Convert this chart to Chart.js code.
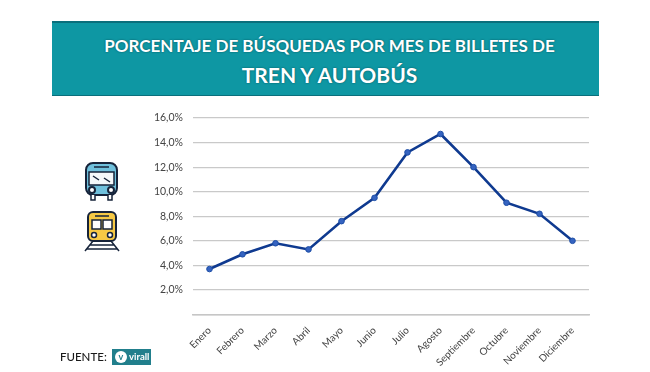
<!DOCTYPE html>
<html lang="es">
<head>
<meta charset="utf-8">
<title>Porcentaje de búsquedas</title>
<script src="https://cdn.jsdelivr.net/npm/chart.js@4/dist/chart.umd.min.js"></script>
<style>
    html, body { margin: 0; padding: 0; background: #fff; }
    #page { position: relative; width: 650px; height: 372px; overflow: hidden; font-family: Lato, sans-serif; }
    #chart { position: absolute; left: 0; top: 0; }
    #banner {
        position: absolute; left: 52px; top: 21px; width: 547px; height: 75px; box-sizing: border-box;
        background: #0e97a3; border-top: 2px solid #0a6f7c; border-bottom: 1px solid #0a6f7c;
        color: #fff; text-align: center; font-weight: 700; text-shadow: 0 0 2px #06505a;
    }
    #banner .line1 { position: absolute; left: 8px; right: 0; top: 13px; font-size: 17px; line-height: 20px; }
    #banner .line2 { position: absolute; left: 8px; right: 0; top: 40px; font-size: 21px; line-height: 24px; }
    #source { position: absolute; left: 60px; top: 350px; font-size: 11.5px; line-height: 14px; color: #1a1a1a; font-weight: 500; }
    #logo {
        position: absolute; left: 112px; top: 349px; width: 39px; height: 16px; background: #217f8c;
        color: #fff; font-size: 9.5px; font-weight: 700; line-height: 16px;
    }
    #logo i {
        position: absolute; left: 3px; top: 2px; width: 12px; height: 12px; border-radius: 50%; background: #fff;
        color: #217f8c; font-size: 9px; font-style: normal; line-height: 11px; text-align: center;
    }
    #logo span { position: absolute; left: 17px; top: 0; }
    .icon { position: absolute; }
</style>
</head>
<body>
<div id="page">
    <canvas id="chart" width="650" height="372"></canvas>
    <div id="banner">
        <div class="line1">PORCENTAJE DE BÚSQUEDAS POR MES DE BILLETES DE</div>
        <div class="line2">TREN Y AUTOBÚS</div>
    </div>

    <!-- bus icon -->
    <svg class="icon" style="left:84px;top:161px" width="36" height="42" viewBox="0 0 36 42">
        <rect x="2" y="2" width="31" height="32" rx="7" fill="#6fc0dc" stroke="#16233a" stroke-width="2"/>
        <rect x="5" y="11" width="25" height="13" fill="#f4f8fa" stroke="#16233a" stroke-width="1.5"/>
        <path d="M9 15l6 4M20 17l6 4M10 6h15" stroke="#16233a" stroke-width="1.5" fill="none"/>
        <circle cx="8" cy="29" r="3" fill="#fff" stroke="#16233a" stroke-width="2"/>
        <circle cx="27" cy="29" r="3" fill="#fff" stroke="#16233a" stroke-width="2"/>
        <path d="M7 34v5h4v-5M24 34v5h4v-5" fill="#fff" stroke="#16233a" stroke-width="1.5"/>
    </svg>
    <!-- train icon -->
    <svg class="icon" style="left:82px;top:210px" width="40" height="42" viewBox="0 0 40 42">
        <rect x="6" y="2" width="28" height="29" rx="5" fill="#f6c945" stroke="#16233a" stroke-width="2"/>
        <rect x="10" y="10" width="9" height="9" fill="#fff" stroke="#16233a" stroke-width="1.5"/>
        <rect x="21" y="10" width="9" height="9" fill="#fff" stroke="#16233a" stroke-width="1.5"/>
        <path d="M13 6h14" stroke="#16233a" stroke-width="1.5"/>
        <circle cx="12" cy="25" r="2.5" fill="#fff" stroke="#16233a" stroke-width="1.5"/>
        <circle cx="28" cy="25" r="2.5" fill="#fff" stroke="#16233a" stroke-width="1.5"/>
        <path d="M11 31L3 41M29 31l8 10M8 35h24M5 39h30" stroke="#16233a" stroke-width="1.5" fill="none"/>
    </svg>

    <div id="source">FUENTE:</div>
    <div id="logo"><i>v</i><span>virall</span></div>
</div>

<script>
const months = ['Enero', 'Febrero', 'Marzo', 'Abril', 'Mayo', 'Junio', 'Julio', 'Agosto', 'Septiembre', 'Octubre', 'Noviembre', 'Diciembre'];
const searchShare = [3.7, 4.9, 5.8, 5.3, 7.6, 9.5, 13.2, 14.7, 12.0, 9.1, 8.2, 6.0];
const yTicks = [0, 2, 4, 6, 8, 10, 12, 14, 16];

// Percent label with a decimal comma, the zero tick stays empty
function formatTick(value) {
    return value === 0 ? '' : value.toFixed(1).replace('.', ',') + '%';
}

new Chart(document.getElementById('chart').getContext('2d'), {
    type: 'line',
    data: {
        labels: months,
        datasets: [{
            data: searchShare,
            borderColor: '#0f3a90',
            borderWidth: 2.6,
            backgroundColor: '#3563c0',
            pointBorderColor: '#1d4ea6',
            pointBorderWidth: 1,
            pointRadius: 2.8,
            tension: 0
        }]
    },
    options: {
        responsive: false,
        animation: false,
        layout: { padding: { left: 143, right: 61, top: 118, bottom: 0 } },
        plugins: { legend: { display: false }, tooltip: { enabled: false } },
        scales: {
            x: {
                offset: true,
                afterFit: function(scale) { scale.height = 57.5; },
                grid: { display: false },
                border: { color: '#c6c6c6', width: 1.5 },
                ticks: {
                    minRotation: 45,
                    maxRotation: 45,
                    autoSkip: false,
                    padding: 2,
                    color: '#444',
                    font: { family: 'Lato', size: 10 }
                }
            },
            y: {
                min: 0,
                max: 16,
                afterBuildTicks: function(scale) {
                    scale.ticks = yTicks.map(v => ({ value: v }));
                },
                afterFit: function(scale) { scale.width = 50; },
                grid: { color: '#c9c9c9', lineWidth: 1.2, drawTicks: false },
                border: { display: false },
                ticks: {
                    callback: formatTick,
                    padding: 10,
                    color: '#444',
                    font: { family: 'Lato', size: 10.5 }
                }
            }
        }
    }
});
</script>
</body>
</html>
